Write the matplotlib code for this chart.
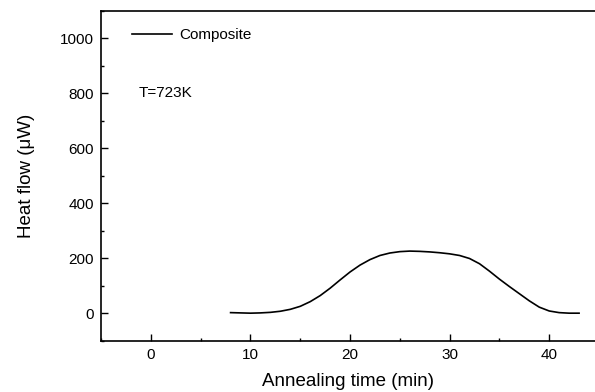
import numpy as np
import matplotlib
matplotlib.use("Agg")
import matplotlib.pyplot as plt
from matplotlib.ticker import MultipleLocator

plt.rcParams['font.family'] = ['Liberation Sans', 'DejaVu Sans']

# heat flow curve
time_min = [8, 9, 10, 11, 12, 13, 14, 15, 16, 17, 18, 19, 20, 21, 22, 23, 24, 25, 26,
            27, 28, 29, 30, 31, 32, 33, 34, 35, 36, 37, 38, 39, 40, 41, 42, 43]
heat_flow = [2, 1, 0, 1, 3, 7, 14, 25, 42, 64, 91, 121, 150, 175, 195, 210, 219, 224, 226,
             225, 223, 220, 216, 210, 199, 180, 153, 124, 97, 71, 45, 22, 8, 2, 0, 0]

fig = plt.figure(figsize=(5.95, 3.92), dpi=100)
ax = fig.add_axes([0.170, 0.131, 0.830, 0.841])

ax.plot(time_min, heat_flow, color='black', lw=1.2, label='Composite')

ax.set_xlim(-5, 44.6)
ax.set_ylim(-100, 1100)
ax.xaxis.set_major_locator(MultipleLocator(10))
ax.xaxis.set_minor_locator(MultipleLocator(5))
ax.yaxis.set_major_locator(MultipleLocator(200))
ax.yaxis.set_minor_locator(MultipleLocator(100))
ax.tick_params(which='both', direction='in', labelsize=11, width=1)
ax.tick_params(which='major', length=5, pad=5)
ax.tick_params(which='minor', length=2.5)
ax.spines['right'].set_visible(False)
for s in ['left', 'bottom', 'top']:
    ax.spines[s].set_linewidth(1.2)

ax.set_xlabel('Annealing time (min)', fontsize=13.5, labelpad=8)
ax.set_ylabel('Heat flow (\u03bcW)', fontsize=13.5, labelpad=18)

ax.legend(loc='upper left', bbox_to_anchor=(0.035, 0.99), frameon=False,
          fontsize=11, handlelength=2.6, handletextpad=0.45)
ax.text(-1.2, 800, 'T=723K', fontsize=11, va='center', ha='left')

fig.savefig('out.png', dpi=100)
